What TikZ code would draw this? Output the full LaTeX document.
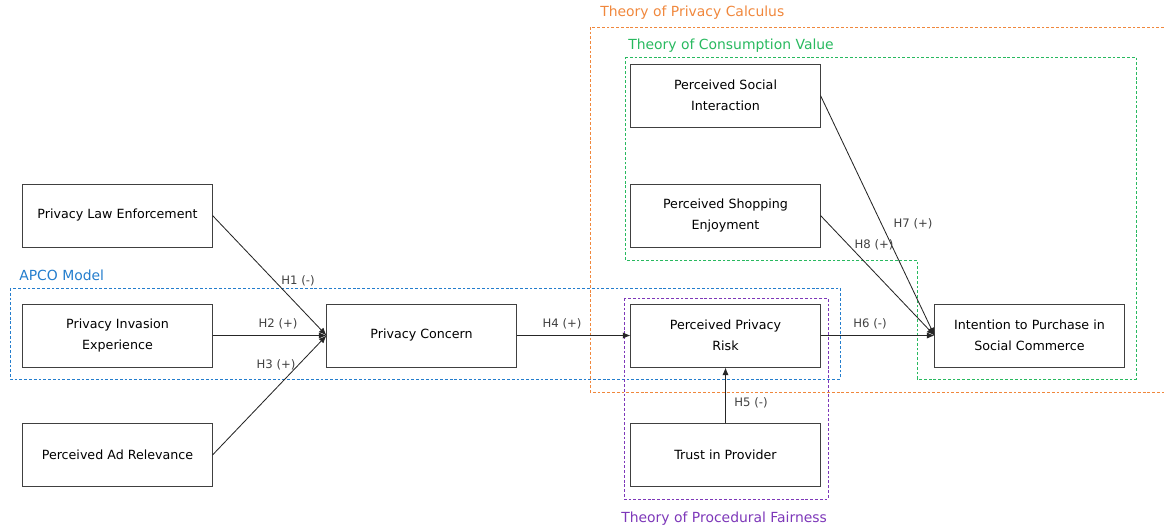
\documentclass[tikz,border=0pt]{standalone}
\usepackage{fontspec}
\setmainfont{DejaVu Sans}
\usetikzlibrary{calc,arrows.meta}

\definecolor{pcorange}{RGB}{240,135,60}
\definecolor{cvgreen}{RGB}{40,185,95}
\definecolor{apcoblue}{RGB}{35,125,205}
\definecolor{pfpurple}{RGB}{125,55,185}

\begin{document}
\begin{tikzpicture}[x=0.025cm, y=-0.025cm,
    construct/.style={draw=black!75, line width=0.7pt, minimum width=4.725cm,
      minimum height=1.575cm, align=center, inner sep=2pt,
      font=\fontsize{9}{15}\selectfont},
    hyp/.style={text=black!75, font=\fontsize{8.3}{10}\selectfont, inner sep=1pt},
    group/.style={dash pattern=on 2pt off 1.4pt, line width=0.6pt},
    grouplabel/.style={anchor=west, inner sep=0pt, font=\fontsize{9.9}{12}\selectfont},
    path/.style={-{Latex[length=5.5pt,width=4.5pt]}, line width=0.6pt, black!85}]
    \useasboundingbox (0,0) rectangle (1164,528);
    % theory frames
    \draw[group, pcorange] (1164,27) -- (590,27) -- (590,392) -- (1164,392);
    \node[grouplabel, pcorange] at (600,13) {Theory of Privacy Calculus};
    \draw[group, cvgreen] (625,57) -- (1136,57) -- (1136,379) -- (917,379)
      -- (917,260) -- (625,260) -- cycle;
    \node[grouplabel, cvgreen] at (628,46) {Theory of Consumption Value};
    \draw[group, apcoblue] (10,288) rectangle (840,379);
    \node[grouplabel, apcoblue] at (19,275) {APCO Model};
    \draw[group, pfpurple] (624,298) rectangle (828,499);
    \node[grouplabel, pfpurple] at (621,519) {Theory of Procedural Fairness};
    % constructs
    \node[construct] (lawenf) at (117.5,215.5) {Privacy Law Enforcement};
    \node[construct] (invexp) at (117.5,335.5) {Privacy Invasion\\Experience};
    \node[construct] (adrel) at (117.5,455) {Perceived Ad Relevance};
    \node[construct] (concern) at (421.5,335.5) {Privacy Concern};
    \node[construct] (risk) at (725.5,335.5) {Perceived Privacy\\Risk};
    \node[construct] (trust) at (725.5,455) {Trust in Provider};
    \node[construct] (social) at (725.5,95.5) {Perceived Social\\Interaction};
    \node[construct] (enjoy) at (725.5,215.5) {Perceived Shopping\\Enjoyment};
    \node[construct] (intent) at (1029.5,335.5) {Intention to Purchase in\\Social Commerce};
    % hypotheses
    \draw[path] (lawenf.east) -- (concern.west);
    \draw[path] (invexp.east) -- (concern.west);
    \draw[path] (adrel.east) -- (concern.west);
    \draw[path] (concern.east) -- (risk.west);
    \draw[path] (trust.north) -- (risk.south);
    \draw[path] (risk.east) -- (intent.west);
    \draw[path] (social.east) -- (intent.west);
    \draw[path] (enjoy.east) -- (intent.west);
    \node[hyp] (h1) at (298,281) {H1 (-)};
    \node[hyp] (h2) at (278,324) {H2 (+)};
    \node[hyp] (h3) at (276,365) {H3 (+)};
    \node[hyp] (h4) at (562,324) {H4 (+)};
    \node[hyp] (h5) at (751,403) {H5 (-)};
    \node[hyp] (h6) at (870,324) {H6 (-)};
    \node[hyp] (h7) at (913,224) {H7 (+)};
    \node[hyp] (h8) at (874,245) {H8 (+)};
  \end{tikzpicture}
\end{document}
